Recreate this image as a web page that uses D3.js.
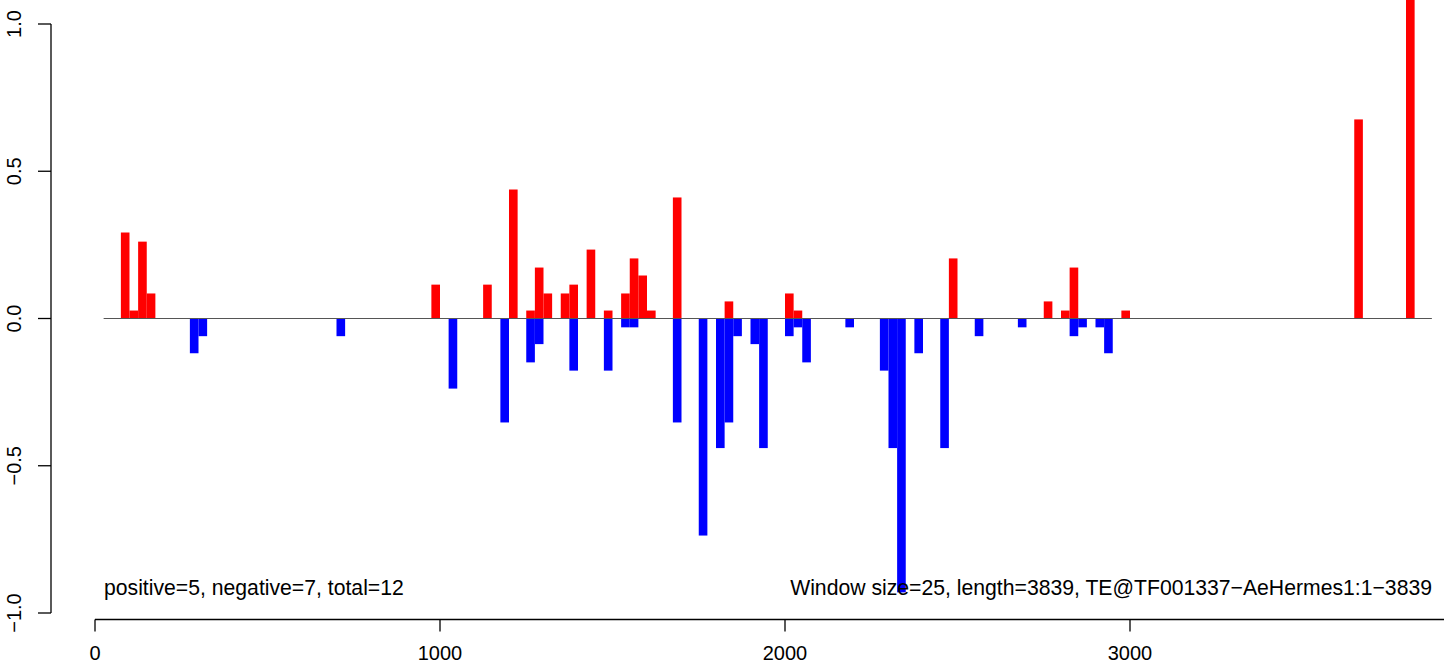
<!DOCTYPE html>
<meta charset="utf-8">
<style>
    body { margin: 0; background: white; }
    text { font-family: 'Liberation Sans', Arial, sans-serif; fill: black; }
</style>
<div id="chart"></div>
<script src="https://d3js.org/d3.v7.min.js"></script>
<script>

    // window start positions and scores (window size 25)
    const posStarts = [75, 100, 125, 150, 975, 1125, 1200, 1250, 1275, 1300, 1350, 1375, 1425, 1475,
                       1525, 1550, 1575, 1600, 1675, 1825, 2000, 2025, 2475, 2750, 2800, 2825, 2975, 3650, 3800];
    const posValues = [0.292, 0.027, 0.261, 0.085, 0.115, 0.115, 0.438, 0.027, 0.173, 0.085, 0.085, 0.115, 0.234, 0.027,
                       0.085, 0.204, 0.146, 0.027, 0.411, 0.058, 0.085, 0.027, 0.204, 0.058, 0.027, 0.173, 0.027, 0.676, 1.1];

    const negStarts = [275, 300, 700, 1025, 1175, 1250, 1275, 1375, 1475, 1525, 1550, 1675, 1750, 1800, 1825, 1850,
                       1900, 1925, 2000, 2025, 2050, 2175, 2275, 2300, 2325, 2375, 2450, 2550, 2675, 2825, 2850, 2900, 2925];
    const negValues = [-0.118, -0.06, -0.06, -0.238, -0.353, -0.149, -0.087, -0.177, -0.177, -0.03, -0.03, -0.353, -0.737, -0.44, -0.353, -0.06,
                       -0.087, -0.44, -0.06, -0.03, -0.149, -0.03, -0.177, -0.44, -0.93, -0.118, -0.44, -0.06, -0.03, -0.06, -0.03, -0.03, -0.118];

    const windowSize = 25;
    const baseline = [25, 3875];
    const xTicks = [0, 1000, 2000, 3000];
    const yTicks = [-1.0, -0.5, 0.0, 0.5, 1.0];
    const leftNote = "positive=5, negative=7, total=12";
    const rightNote = "Window size=25, length=3839, TE@TF001337\u2212AeHermes1:1\u22123839";

    const width = 1444, height = 665;

    const x = d3.scaleLinear().domain([0, 3000]).range([95, 1130]);
    const y = d3.scaleLinear().domain([-1, 1]).range([613, 24]);

    const svg = d3.select("#chart")
                  .append("svg")
                  .attr("width", width)
                  .attr("height", height);

    const pos = posStarts.map((s, i) => ({start: s, value: posValues[i]}));
    const neg = negStarts.map((s, i) => ({start: s, value: negValues[i]}));

    svg.append("g")
       .attr("fill", "#ff0000")
       .selectAll("rect")
       .data(pos)
       .join("rect")
       .attr("x", d => x(d.start))
       .attr("width", d => x(d.start + windowSize) - x(d.start))
       .attr("y", d => y(d.value))
       .attr("height", d => y(0) - y(d.value));

    svg.append("g")
       .attr("fill", "#0000ff")
       .selectAll("rect")
       .data(neg)
       .join("rect")
       .attr("x", d => x(d.start))
       .attr("width", d => x(d.start + windowSize) - x(d.start))
       .attr("y", y(0))
       .attr("height", d => y(d.value) - y(0));

    // zero line
    svg.append("line")
       .attr("x1", x(baseline[0]))
       .attr("x2", x(baseline[1]))
       .attr("y1", y(0))
       .attr("y2", y(0))
       .attr("stroke", "#555")
       .attr("stroke-width", 1);

    // x axis (R style: line runs off the right edge)
    const xg = svg.append("g").attr("stroke", "black").attr("stroke-width", 1.3);
    xg.append("line")
      .attr("x1", x(0)).attr("x2", width + 5)
      .attr("y1", 619.5).attr("y2", 619.5);
    xg.selectAll("line.tick")
      .data(xTicks)
      .join("line")
      .attr("class", "tick")
      .attr("x1", d => x(d)).attr("x2", d => x(d))
      .attr("y1", 619.5).attr("y2", 631.5);
    svg.append("g")
       .selectAll("text")
       .data(xTicks)
       .join("text")
       .attr("x", d => x(d))
       .attr("y", 660)
       .attr("text-anchor", "middle")
       .style("font-size", "20px")
       .text(d => d);

    // y axis
    const yg = svg.append("g").attr("stroke", "black").attr("stroke-width", 1.3);
    yg.append("line")
      .attr("x1", 51).attr("x2", 51)
      .attr("y1", y(1)).attr("y2", y(-1));
    yg.selectAll("line.tick")
      .data(yTicks)
      .join("line")
      .attr("class", "tick")
      .attr("x1", 38).attr("x2", 51)
      .attr("y1", d => y(d)).attr("y2", d => y(d));
    svg.append("g")
       .selectAll("text")
       .data(yTicks)
       .join("text")
       .attr("transform", d => `translate(21,${y(d)}) rotate(-90)`)
       .attr("text-anchor", "middle")
       .style("font-size", "20px")
       .text(d => d3.format(".1f")(d).replace("-", "\u2212"));

    // notes
    svg.append("text")
       .attr("x", 104)
       .attr("y", 595)
       .style("font-size", "21.2px")
       .text(leftNote);
    svg.append("text")
       .attr("x", 1432)
       .attr("y", 595)
       .attr("text-anchor", "end")
       .style("font-size", "21.2px")
       .text(rightNote);

</script>
